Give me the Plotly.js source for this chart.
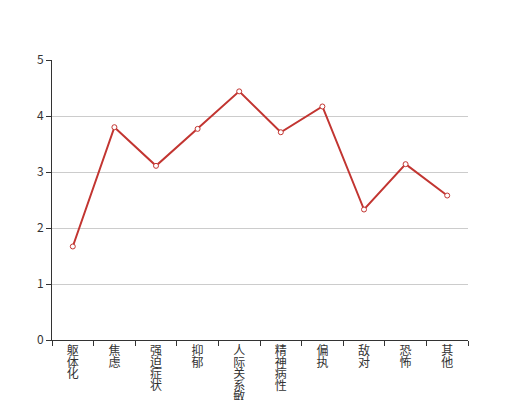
<!DOCTYPE html>
<html>
<head>
<meta charset="utf-8">
<script src="https://cdn.plot.ly/plotly-3.0.1.min.js"></script>
<style>html,body{margin:0;padding:0;background:#fff;}#chart{width:520px;height:400px;}</style>
</head>
<body>
<div id="chart"></div>
<script>
const categories = ['躯体化', '焦虑', '强迫症状', '抑郁', '人际关系敏感', '精神病性', '偏执', '敌对', '恐怖', '其他'];
const values = [1.67, 3.80, 3.11, 3.77, 4.44, 3.71, 4.17, 2.33, 3.14, 2.58];
const yTicks = [0, 1, 2, 3, 4, 5];

const verticalLabels = categories.map(c => c.split('').join('<br>'));

const trace = {
  type: 'scatter',
  mode: 'lines+markers',
  x: categories,
  y: values,
  line: {color: '#c23531', width: 2},
  marker: {symbol: 'circle', size: 5, color: '#ffffff', line: {color: '#c23531', width: 1}},
  hoverinfo: 'x+y'
};

const layout = {
  width: 520,
  height: 400,
  margin: {l: 52, r: 52, t: 60, b: 60},
  paper_bgcolor: '#ffffff',
  plot_bgcolor: '#ffffff',
  showlegend: false,
  font: {family: '"Noto Sans CJK SC", "Noto Sans", sans-serif', size: 12, color: '#333333'},
  xaxis: {
    type: 'category',
    tickmode: 'array',
    tickvals: categories,
    ticktext: verticalLabels,
    tickson: 'boundaries',
    ticks: 'outside',
    ticklen: 5,
    tickcolor: '#333333',
    showline: true,
    linecolor: '#333333',
    linewidth: 1,
    showgrid: false,
    zeroline: false,
    tickangle: 0,
    tickfont: {size: 12, color: '#333333'},
    range: [-0.5, categories.length - 0.5],
    fixedrange: true
  },
  yaxis: {
    range: [0, 5],
    tickmode: 'array',
    tickvals: yTicks,
    ticktext: yTicks.map(String),
    ticks: 'outside',
    ticklen: 5,
    tickcolor: '#333333',
    showline: true,
    linecolor: '#333333',
    linewidth: 1,
    showgrid: true,
    gridcolor: '#cccccc',
    gridwidth: 1,
    zeroline: false,
    tickfont: {size: 12, color: '#333333'},
    fixedrange: true
  }
};

Plotly.newPlot('chart', [trace], layout, {displayModeBar: false, staticPlot: true}).then(gd => {
  gd.querySelectorAll('.xtick text tspan.line').forEach(t => {
    const dy = t.getAttribute('dy');
    if (!dy) return;
    const v = parseFloat(dy);
    if (!isNaN(v) && v !== 0) t.setAttribute('dy', (v * 0.96 / 1.3).toFixed(3) + 'em');
  });
});
</script>
</body>
</html>
